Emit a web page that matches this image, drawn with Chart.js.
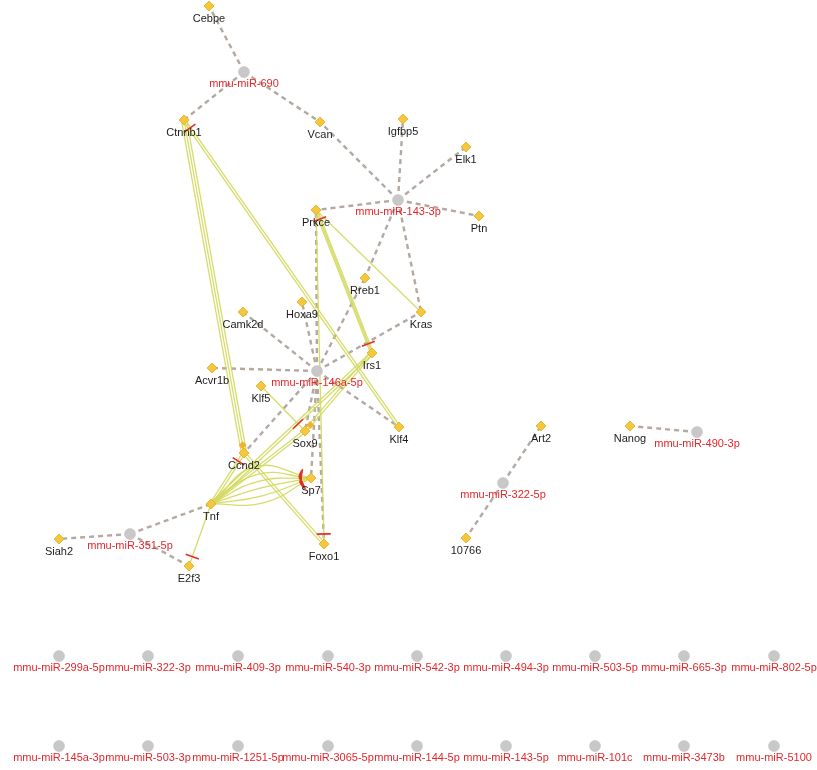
<!DOCTYPE html>
<html>
<head>
<meta charset="utf-8">
<script src="https://cdn.jsdelivr.net/npm/chart.js@4.4.1/dist/chart.umd.min.js"></script>
<style>
  html, body { margin: 0; padding: 0; background: #ffffff; }
  #wrap { position: relative; width: 817px; height: 770px; }
</style>
</head>
<body>
<div id="wrap"><canvas id="net"></canvas></div>
<script>
// ---- Gene nodes (layout coordinates) ----
const geneNames = ['Cebpe', 'Ctnnb1', 'Vcan', 'Igfbp5', 'Elk1', 'Ptn', 'Prkce', 'Rreb1', 'Hoxa9', 'Camk2d',
  'Kras', 'Irs1', 'Acvr1b', 'Klf5', 'Klf4', 'Sox9', 'Ccnd2', 'Sp7', 'Tnf', 'Foxo1', 'Siah2', 'E2f3',
  'Art2', '10766', 'Nanog'];
const geneX = [209, 184, 320, 403, 466, 479, 316, 365, 302, 243,
  421, 372, 212, 261, 399, 305, 244, 311, 211, 324, 59, 189,
  541, 466, 630];
const geneY = [6, 120, 122, 119, 147, 216, 210, 278, 302, 312,
  312, 353, 368, 386, 427, 431, 453, 478, 504, 544, 539, 566,
  426, 538, 426];

// ---- miRNA nodes (layout coordinates) ----
const mirNames = ['mmu-miR-690', 'mmu-miR-143-3p', 'mmu-miR-146a-5p', 'mmu-miR-351-5p', 'mmu-miR-322-5p', 'mmu-miR-490-3p',
  'mmu-miR-299a-5p', 'mmu-miR-322-3p', 'mmu-miR-409-3p', 'mmu-miR-540-3p', 'mmu-miR-542-3p', 'mmu-miR-494-3p',
  'mmu-miR-503-5p', 'mmu-miR-665-3p', 'mmu-miR-802-5p',
  'mmu-miR-145a-3p', 'mmu-miR-503-3p', 'mmu-miR-1251-5p', 'mmu-miR-3065-5p', 'mmu-miR-144-5p', 'mmu-miR-143-5p',
  'mmu-miR-101c', 'mmu-miR-3473b', 'mmu-miR-5100'];
const mirX = [244, 398, 317, 130, 503, 697,
  59, 148, 238, 328, 417, 506, 595, 684, 774,
  59, 148, 238, 328, 417, 506, 595, 684, 774];
const mirY = [72, 200, 371, 534, 483, 432,
  656, 656, 656, 656, 656, 656, 656, 656, 656,
  746, 746, 746, 746, 746, 746, 746, 746, 746];

// ---- miRNA -> target gene edges ----
const mirTargets = [
  ['mmu-miR-690', ['Cebpe', 'Ctnnb1', 'Vcan']],
  ['mmu-miR-143-3p', ['Vcan', 'Igfbp5', 'Elk1', 'Ptn', 'Prkce', 'Rreb1', 'Kras']],
  ['mmu-miR-146a-5p', ['Prkce', 'Hoxa9', 'Camk2d', 'Acvr1b', 'Rreb1', 'Kras', 'Klf4', 'Ccnd2', 'Sox9', 'Sp7', 'Foxo1']],
  ['mmu-miR-351-5p', ['Siah2', 'Tnf', 'E2f3']],
  ['mmu-miR-322-5p', ['Art2', '10766']],
  ['mmu-miR-490-3p', ['Nanog']]
];

// ---- gene-gene interactions: [source, target, parallel edges, end type] ----
const geneLinks = [
  ['Ctnnb1', 'Ccnd2', 3, 'arrow'],
  ['Klf4', 'Ctnnb1', 2, 'inhibit'],
  ['Prkce', 'Irs1', 2, 'inhibit'],
  ['Irs1', 'Prkce', 1, 'inhibit'],
  ['Prkce', 'Kras', 1, 'none'],
  ['Prkce', 'Foxo1', 1, 'inhibit'],
  ['Irs1', 'Sox9', 2, 'arrow'],
  ['Irs1', 'Tnf', 2, 'none'],
  ['Sox9', 'Tnf', 2, 'none'],
  ['Klf5', 'Sox9', 1, 'inhibit'],
  ['Tnf', 'Ccnd2', 2, 'inhibit'],
  ['Ccnd2', 'Foxo1', 2, 'none'],
  ['Tnf', 'E2f3', 1, 'inhibit']
];
// bundle of curved interactions
const curvedLinks = [
  ['Tnf', 'Sp7', 6, 'inhibit']
];

// ---- build node lookup ----
const pos = {};
geneNames.forEach((n, i) => { pos[n] = { x: geneX[i], y: geneY[i] }; });
mirNames.forEach((n, i) => { pos[n] = { x: mirX[i], y: mirY[i] }; });

const DASH_COLOR = '#b3a9a1';
const LINK_COLOR = 'rgba(210,216,90,0.9)';
const BAR_COLOR = '#e2302a';
const datasets = [];

function unit(a, b) {
  const dx = b.x - a.x, dy = b.y - a.y;
  const L = Math.hypot(dx, dy) || 1;
  return { ux: dx / L, uy: dy / L, px: -dy / L, py: dx / L };
}

function lineSet(points, color, width, dash, order, tension) {
  return {
    type: 'line', data: points, borderColor: color, borderWidth: width,
    borderDash: dash || [], pointRadius: 0, fill: false, tension: tension || 0,
    order: order, clip: false
  };
}

const inhibitBars = [];
const arrowHeads = [];
function addEnd(kind, dirFrom, target) {
  const u = unit(dirFrom, target);
  const c = { x: target.x - u.ux * 10, y: target.y - u.uy * 10 };
  if (kind === 'inhibit') {
    inhibitBars.push([{ x: c.x - u.px * 7, y: c.y - u.py * 7 }, { x: c.x + u.px * 7, y: c.y + u.py * 7 }]);
  } else if (kind === 'arrow') {
    arrowHeads.push({ x: target.x - u.ux * 8, y: target.y - u.uy * 8 });
  }
}

// dashed miRNA edges
mirTargets.forEach(([m, genes]) => {
  genes.forEach(g => {
    datasets.push(lineSet([pos[m], pos[g]], DASH_COLOR, 2.4, [5, 4], 30));
  });
});

// straight gene-gene edges (parallel bundles)
geneLinks.forEach(([s, t, n, kind]) => {
  const a = pos[s], b = pos[t];
  const u = unit(a, b);
  for (let k = 0; k < n; k++) {
    const off = (k - (n - 1) / 2) * 2.6;
    datasets.push(lineSet([
      { x: a.x + u.px * off, y: a.y + u.py * off },
      { x: b.x + u.px * off, y: b.y + u.py * off }
    ], LINK_COLOR, 1.3, null, 20));
  }
  addEnd(kind, a, b);
});

// curved gene-gene edges
const bends = [-25, -17, -10, -3, 5, 12];
curvedLinks.forEach(([s, t, n, kind]) => {
  const a = pos[s], b = pos[t];
  const u = unit(a, b);
  for (let k = 0; k < n; k++) {
    const h = bends[k % bends.length];
    const mid = { x: (a.x + b.x) / 2 + u.px * h, y: (a.y + b.y) / 2 + u.py * h };
    datasets.push(lineSet([a, mid, b], LINK_COLOR, 1.3, null, 20, 0.45));
    addEnd(kind, mid, b);
  }
});

inhibitBars.forEach(seg => datasets.push(lineSet(seg, BAR_COLOR, 1.6, null, 5)));

datasets.push({
  type: 'line', showLine: false, data: arrowHeads, pointStyle: 'rectRot', pointRadius: 4,
  pointBackgroundColor: '#f2b12c', pointBorderWidth: 0, order: 4, clip: false
});

// node marks
datasets.push({
  type: 'line', showLine: false, data: mirNames.map(n => pos[n]), pointStyle: 'circle', pointRadius: 5.5,
  pointBackgroundColor: '#c8c8c8', pointBorderColor: '#bdbdbd', pointBorderWidth: 0.5, order: 2, clip: false
});
datasets.push({
  type: 'line', showLine: false, data: geneNames.map(n => pos[n]), pointStyle: 'rectRot', pointRadius: 5,
  pointBackgroundColor: '#f5c73c', pointBorderColor: '#e3ad24', pointBorderWidth: 0.8, order: 1, clip: false
});

// node labels
const nodeLabels = {
  id: 'nodeLabels',
  afterDatasetsDraw(chart) {
    const { ctx, scales: { x, y } } = chart;
    ctx.save();
    ctx.font = '11px "Liberation Sans", Arial, sans-serif';
    ctx.textAlign = 'center';
    ctx.textBaseline = 'middle';
    ctx.fillStyle = '#1c1c1c';
    geneNames.forEach(n => {
      ctx.fillText(n, x.getPixelForValue(pos[n].x), y.getPixelForValue(pos[n].y) + 13);
    });
    ctx.fillStyle = '#e3262b';
    mirNames.forEach(n => {
      ctx.fillText(n, x.getPixelForValue(pos[n].x), y.getPixelForValue(pos[n].y) + 12);
    });
    ctx.restore();
  }
};

new Chart(document.getElementById('net'), {
  type: 'line',
  data: { datasets },
  options: {
    responsive: true,
    maintainAspectRatio: false,
    animation: false,
    events: [],
    layout: { padding: 0, autoPadding: false },
    plugins: { legend: { display: false }, tooltip: { enabled: false } },
    scales: {
      x: { type: 'linear', min: 0, max: 817, display: false },
      y: { type: 'linear', min: 0, max: 770, reverse: true, display: false }
    }
  },
  plugins: [nodeLabels]
});
</script>
</body>
</html>
